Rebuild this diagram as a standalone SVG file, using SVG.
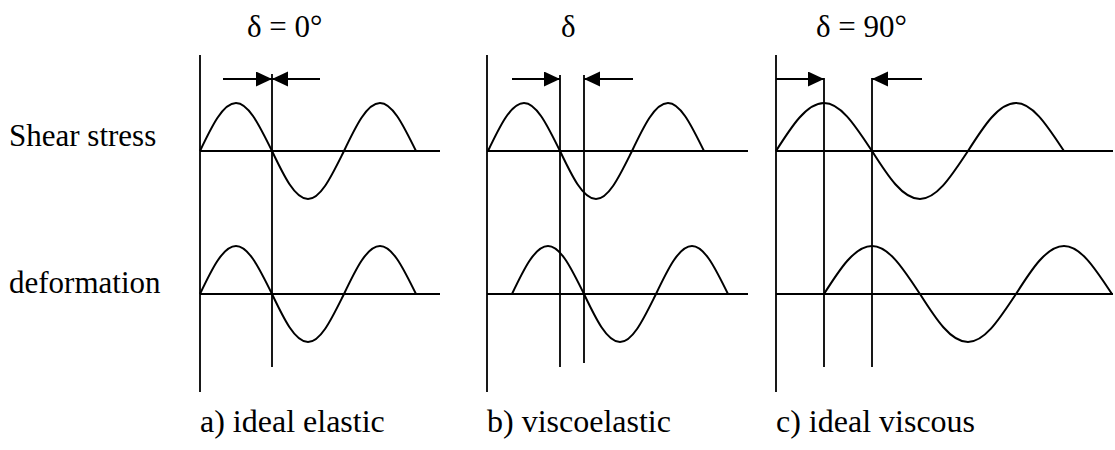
<svg xmlns="http://www.w3.org/2000/svg" width="1115" height="450" viewBox="0 0 1115 450">
<style>
.ln{stroke:#000;stroke-width:1.8;fill:none}
.wv{stroke:#000;stroke-width:2;fill:none}
.ar{stroke:#000;stroke-width:1.8;fill:none;marker-end:url(#ah)}
text{font-family:"Liberation Serif","Times New Roman",serif;font-size:31px;fill:#000}
.lb{font-size:32px}
</style>
<defs>
<marker id="ah" markerUnits="userSpaceOnUse" markerWidth="18" markerHeight="18" refX="16" refY="7.5" orient="auto"><path d="M0,0 L16,7.5 L0,15 z" fill="#000"/></marker>
</defs>
<rect width="1115" height="450" fill="#fff"/>
<g id="row-labels">
<text x="9" y="146">Shear stress</text>
<text x="9" y="293">deformation</text>
</g>
<g id="panel-a">
<text x="247" y="37">δ = 0°</text>
<path class="ln" d="M200,55 V392 M200,151 H440 M200,294 H440 M272,74 V367"/>
<path class="wv" d="M200,151 c11.74,-24.59 22.97,-48 36,-48 c13.03,0 24.26,24.59 36,48 c11.74,24.59 22.97,48 36,48 c13.03,0 24.26,-24.59 36,-48 c11.74,-24.59 22.97,-48 36,-48 c13.03,0 24.26,24.59 36,48"/>
<path class="wv" d="M200,294 c11.74,-24.59 22.97,-48 36,-48 c13.03,0 24.26,24.59 36,48 c11.74,24.59 22.97,48 36,48 c13.03,0 24.26,-24.59 36,-48 c11.74,-24.59 22.97,-48 36,-48 c13.03,0 24.26,24.59 36,48"/>
<text class="lb" x="200" y="432">a) ideal elastic</text>
</g>
<g id="panel-b">
<text x="561" y="37">δ</text>
<path class="ln" d="M487,55 V392 M487,151 H748 M487,294 H748 M560,75 V367 M584,75 V363"/>
<path class="wv" d="M488,151 c11.74,-24.59 22.97,-48 36,-48 c13.03,0 24.26,24.59 36,48 c11.74,24.59 22.97,48 36,48 c13.03,0 24.26,-24.59 36,-48 c11.74,-24.59 22.97,-48 36,-48 c13.03,0 24.26,24.59 36,48"/>
<path class="wv" d="M512,294 c11.74,-24.59 22.97,-48 36,-48 c13.03,0 24.26,24.59 36,48 c11.74,24.59 22.97,48 36,48 c13.03,0 24.26,-24.59 36,-48 c11.74,-24.59 22.97,-48 36,-48 c13.03,0 24.26,24.59 36,48"/>
<text class="lb" x="487" y="432">b) viscoelastic</text>
</g>
<g id="panel-c">
<text x="816" y="37">δ = 90°</text>
<path class="ln" d="M776,55 V392 M776,151 H1113 M776,294 H1113 M824,78 V367 M872,78 V367"/>
<path class="wv" d="M776,151 c15.65,-24.59 30.63,-48 48,-48 c17.37,0 32.35,24.59 48,48 c15.65,24.59 30.63,48 48,48 c17.37,0 32.35,-24.59 48,-48 c15.65,-24.59 30.63,-48 48,-48 c17.37,0 32.35,24.59 48,48"/>
<path class="wv" d="M824,294 c15.65,-24.59 30.63,-48 48,-48 c17.37,0 32.35,24.59 48,48 c15.65,24.59 30.63,48 48,48 c17.37,0 32.35,-24.59 48,-48 c15.65,-24.59 30.63,-48 48,-48 c17.37,0 32.35,24.59 48,48"/>
<text class="lb" x="776" y="432">c) ideal viscous</text>
</g>
<g id="connectors">
<path class="ar" d="M223,79 H272"/>
<path class="ar" d="M320,79 H272"/>
<path class="ar" d="M512,79 H560"/>
<path class="ar" d="M633,79 H584"/>
<path class="ar" d="M776,79 H824"/>
<path class="ar" d="M922,79 H872"/>
</g>
</svg>
